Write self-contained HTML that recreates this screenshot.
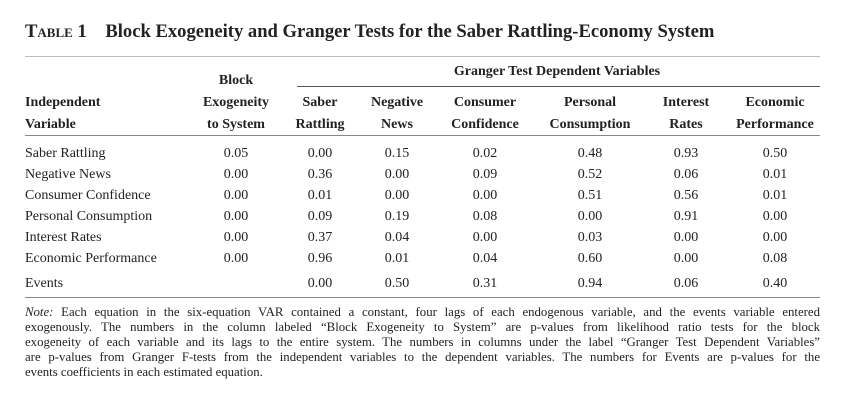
<!DOCTYPE html>
<html><head><meta charset="utf-8"><style>
body{margin:0;background:#fff;}
#t{position:relative;width:852px;height:403px;font-family:"Liberation Serif",serif;color:#222;overflow:hidden;}
#t div{position:absolute;white-space:nowrap;line-height:16px;}
.c{transform:translateX(-50%);text-align:center;}
.h{font-weight:bold;font-size:14px;}
.d{font-size:14px;}
.rule{height:0;border-top:1px solid #555;}
.n{font-size:12.8px;width:795px;left:25px;text-align:justify;text-align-last:justify;line-height:15px!important;}
</style></head><body>
<div id="t">
<div style="left:25px;top:21px;font-size:18.6px;font-weight:bold;line-height:22px;"><span style="font-variant:small-caps">Table</span> 1&nbsp;&nbsp;&nbsp; Block Exogeneity and Granger Tests for the Saber Rattling-Economy System</div>
<div class="rule" style="left:25px;width:795px;top:56px;border-color:#bbb;"></div>
<div class="h c" style="left:557px;top:64px;">Granger Test Dependent Variables</div>
<div class="rule" style="left:297px;width:523px;top:86px;"></div>
<div class="rule" style="left:25px;width:795px;top:135px;border-color:#888;"></div>
<div class="rule" style="left:25px;width:795px;top:297px;border-color:#888;"></div>
<div id="body"></div>
<div class="n" style="top:305px;"><i>Note:</i> Each equation in the six-equation VAR contained a constant, four lags of each endogenous variable, and the events variable entered</div>
<div class="n" style="top:320px;">exogenously. The numbers in the column labeled “Block Exogeneity to System” are p-values from likelihood ratio tests for the block</div>
<div class="n" style="top:335px;">exogeneity of each variable and its lags to the entire system. The numbers in columns under the label “Granger Test Dependent Variables”</div>
<div class="n" style="top:350px;">are p-values from Granger F-tests from the independent variables to the dependent variables. The numbers for Events are p-values for the</div>
<div class="n" style="top:365px;text-align-last:left;">events coefficients in each estimated equation.</div>
</div>
<script>
const rowLabels=["Saber Rattling","Negative News","Consumer Confidence","Personal Consumption","Interest Rates","Economic Performance","Events"];
const blockVals=["0.05","0.00","0.00","0.00","0.00","0.00",""];
const colSaber=["0.00","0.36","0.01","0.09","0.37","0.96","0.00"];
const colNegative=["0.15","0.00","0.00","0.19","0.04","0.01","0.50"];
const colConsumer=["0.02","0.09","0.00","0.08","0.00","0.04","0.31"];
const colPersonal=["0.48","0.52","0.51","0.00","0.03","0.60","0.94"];
const colInterest=["0.93","0.06","0.56","0.91","0.00","0.00","0.06"];
const colEconomic=["0.50","0.01","0.01","0.00","0.00","0.08","0.40"];
const headers=[["Block","Exogeneity","to System"],["","Saber","Rattling"],["","Negative","News"],["","Consumer","Confidence"],["","Personal","Consumption"],["","Interest","Rates"],["","Economic","Performance"]];
const colX=[236,320,397,485,590,686,775];
const rowY=[146,167,188,209,230,251,276];
const b=document.getElementById('body');
function add(txt,cls,x,y,name){const e=document.createElement('div');e.className=cls;e.style.left=x+'px';e.style.top=y+'px';e.textContent=txt;


b.appendChild(e);}
add("Independent","h",25,95,"header-independent");
add("Variable","h",25,117,"header-variable");
headers.forEach((h,i)=>{[73,95,117].forEach((y,k)=>{if(h[k])add(h[k],"h c",colX[i],y,"column-header");});});
const cols=[blockVals,colSaber,colNegative,colConsumer,colPersonal,colInterest,colEconomic];
rowLabels.forEach((r,i)=>{add(r,"d",25,rowY[i],"row-label");
cols.forEach((c,j)=>{if(c[i])add(c[i],"d c",colX[j],rowY[i],"cell-value");});});
</script>
</body></html>
